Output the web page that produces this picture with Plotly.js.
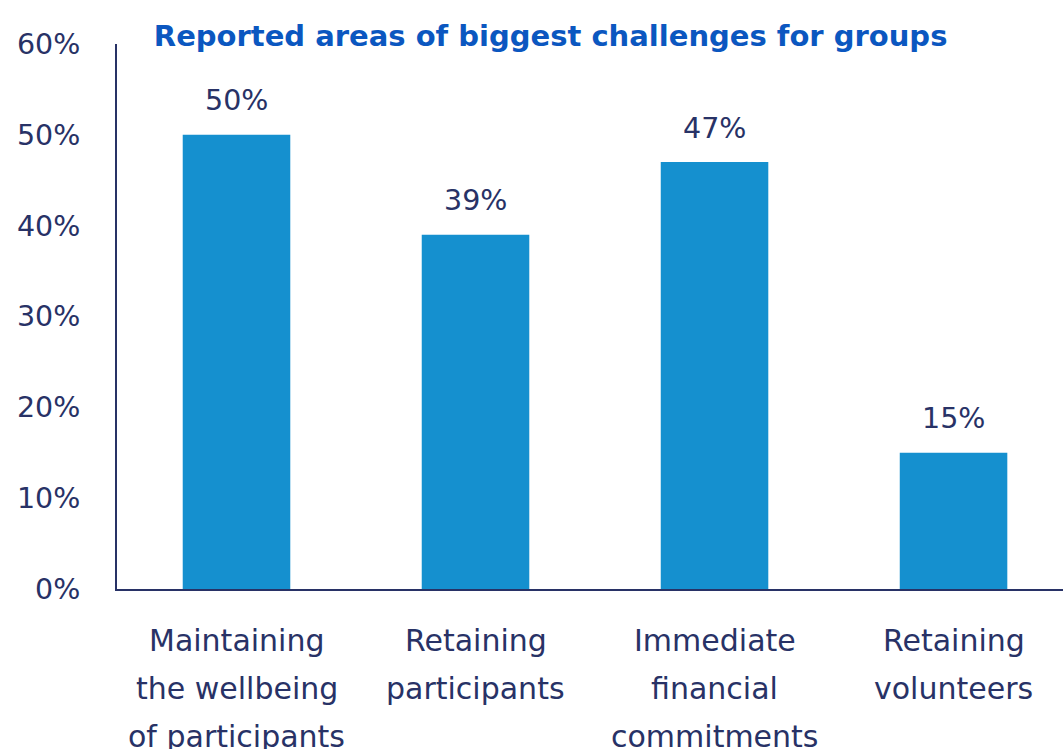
<!DOCTYPE html>
<html>
<head>
<meta charset="utf-8">
<script src="https://cdn.plot.ly/plotly-3.0.1.min.js"></script>
<style>html,body{margin:0;padding:0;background:#fff;}#chart{width:1063px;height:749px;}</style>
</head>
<body>
<div id="chart"></div>
<script>
const categories = [
  "Maintaining<br>the wellbeing<br>of participants",
  "Retaining<br>participants",
  "Immediate<br>financial<br>commitments",
  "Retaining<br>volunteers"
];
const values = [50, 39, 47, 15];
const valueLabels = ["50%", "39%", "47%", "15%"];
const yTickVals = [0, 10, 20, 30, 40, 50, 60];
const yTickText = ["0%", "10%", "20%", "30%", "40%", "50%", "60%"];

const navy = "#283266";
const font = "DejaVu Sans, sans-serif";

const trace = {
  type: "bar",
  x: categories,
  y: values,
  width: 0.45,
  marker: {color: "#1590cf"},
  hoverinfo: "none"
};

const annotations = categories.map((c, i) => ({
  x: c, y: values[i], text: valueLabels[i],
  xref: "x", yref: "y", showarrow: false,
  yanchor: "middle", yshift: 34,
  font: {family: font, size: 28.5, color: navy}
}));

// category labels, one annotation per line for the wider line spacing
categories.forEach((c) => {
  c.split("<br>").forEach((line, j) => {
    annotations.push({
      x: c, y: 0, text: line,
      xref: "x", yref: "y", showarrow: false,
      yanchor: "middle", yshift: -(51 + 48 * j),
      font: {family: font, size: 30, color: navy}
    });
  });
});

const layout = {
  width: 1063, height: 749,
  margin: {l: 117, r: 0, t: 44, b: 160},
  paper_bgcolor: "#fff", plot_bgcolor: "#fff",
  showlegend: false,
  title: {
    text: "<b>Reported areas of biggest challenges for groups</b>",
    x: 0.518, xanchor: "center", y: 0.952, yanchor: "middle",
    font: {family: font, size: 29, color: "#0b57c0"}
  },
  xaxis: {
    range: [-0.5, 3.458],
    showline: true, linecolor: navy, linewidth: 2,
    showgrid: false, zeroline: false, ticks: "",
    showticklabels: false,
    fixedrange: true
  },
  yaxis: {
    range: [0, 60],
    tickvals: yTickVals, ticktext: yTickText,
    showline: true, linecolor: navy, linewidth: 2,
    showgrid: false, zeroline: false, ticks: "",
    ticklabelstandoff: 29,
    tickfont: {family: font, size: 28.5, color: navy},
    fixedrange: true
  },
  annotations: annotations
};

Plotly.newPlot("chart", [trace], layout, {displayModeBar: false, staticPlot: true});
</script>
</body>
</html>
